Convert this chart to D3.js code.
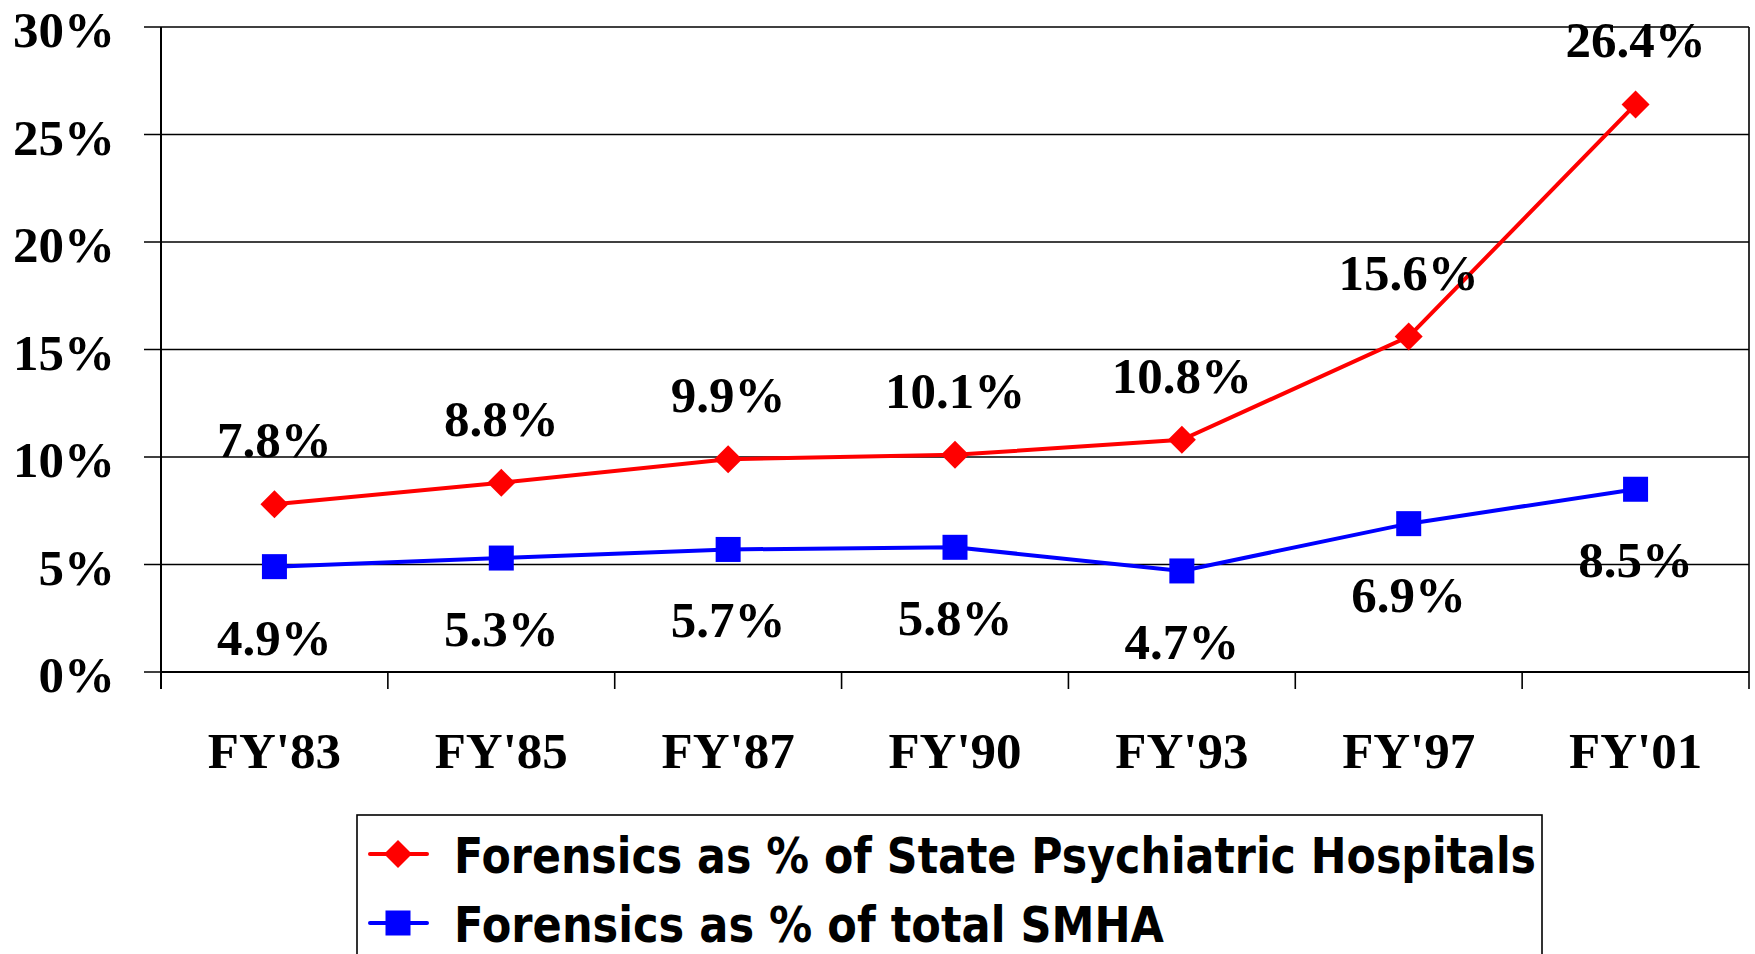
<!DOCTYPE html>
<html>
<head>
<meta charset="utf-8">
<script src="https://cdn.jsdelivr.net/npm/d3@7"></script>
<style>
  body { margin: 0; background: #fff; }
  svg text { font-family: "Liberation Serif", "Times New Roman", serif; font-weight: bold; }
</style>
</head>
<body>
<div id="vis"></div>
<script>
var years = ["FY'83", "FY'85", "FY'87", "FY'90", "FY'93", "FY'97", "FY'01"];
var hospitalPct = [7.8, 8.8, 9.9, 10.1, 10.8, 15.6, 26.4];
var smhaPct = [4.9, 5.3, 5.7, 5.8, 4.7, 6.9, 8.5];
var yTicks = [0, 5, 10, 15, 20, 25, 30];
var legendNames = ["Forensics as % of State Psychiatric Hospitals", "Forensics as % of total SMHA"];

var W = 1755, H = 954,
    plotL = 161, plotR = 1749, plotT = 27, plotB = 672;

var svg = d3.select("#vis").append("svg").attr("width", W).attr("height", H);

var x = d3.scaleBand().domain(years).range([plotL, plotR]);
var y = d3.scaleLinear().domain([0, 30]).range([plotB, plotT]);

// grid lines + y ticks (they stick out left of the axis)
svg.append("g").selectAll("line").data(yTicks).enter().append("line")
    .attr("x1", plotL - 17).attr("x2", plotR)
    .attr("y1", function(d){ return y(d); }).attr("y2", function(d){ return y(d); })
    .attr("stroke", "#000").attr("stroke-width", 1.6);

// right frame
svg.append("line").attr("x1", plotR).attr("x2", plotR).attr("y1", plotT).attr("y2", plotB)
    .attr("stroke", "#000").attr("stroke-width", 1.6);

// y axis
svg.append("line").attr("x1", plotL).attr("x2", plotL).attr("y1", plotT).attr("y2", plotB + 17)
    .attr("stroke", "#000").attr("stroke-width", 2);
// x axis
svg.append("line").attr("x1", plotL).attr("x2", plotR).attr("y1", plotB).attr("y2", plotB)
    .attr("stroke", "#000").attr("stroke-width", 2.2);

// x ticks at band boundaries
svg.append("g").selectAll("line").data(years).enter().append("line")
    .attr("x1", function(d){ return x(d) + x.bandwidth(); })
    .attr("x2", function(d){ return x(d) + x.bandwidth(); })
    .attr("y1", plotB).attr("y2", plotB + 17)
    .attr("stroke", "#000").attr("stroke-width", 1.6);

// y labels
svg.append("g").selectAll("text").data(yTicks).enter().append("text")
    .attr("x", 115).attr("y", function(d){ return y(d) + 20; })
    .attr("text-anchor", "end").attr("font-size", 51)
    .text(function(d){ return d + "%"; });

// x labels
svg.append("g").selectAll("text").data(years).enter().append("text")
    .attr("x", function(d){ return x(d) + x.bandwidth() / 2; })
    .attr("y", 768).attr("text-anchor", "middle").attr("font-size", 51)
    .text(function(d){ return d; });

var cx = function(d, i){ return x(years[i]) + x.bandwidth() / 2; };
var line = d3.line().x(function(d, i){ return cx(d, i); }).y(function(d){ return y(d); });

// red series
svg.append("path").datum(hospitalPct).attr("d", line)
    .attr("fill", "none").attr("stroke", "#ff0000").attr("stroke-width", 4);
svg.append("g").selectAll("path").data(hospitalPct).enter().append("path")
    .attr("d", "M0,-14L14,0L0,14L-14,0Z")
    .attr("transform", function(d, i){ return "translate(" + cx(d, i) + "," + y(d) + ")"; })
    .attr("fill", "#ff0000");

// blue series
svg.append("path").datum(smhaPct).attr("d", line)
    .attr("fill", "none").attr("stroke", "#0000ff").attr("stroke-width", 4);
svg.append("g").selectAll("rect").data(smhaPct).enter().append("rect")
    .attr("x", function(d, i){ return cx(d, i) - 12.5; })
    .attr("y", function(d){ return y(d) - 12.5; })
    .attr("width", 25).attr("height", 25).attr("fill", "#0000ff");

// data labels
svg.append("g").selectAll("text").data(hospitalPct).enter().append("text")
    .attr("x", cx).attr("y", function(d){ return y(d) - 47; })
    .attr("text-anchor", "middle").attr("font-size", 51)
    .text(function(d){ return d.toFixed(1) + "%"; });
svg.append("g").selectAll("text").data(smhaPct).enter().append("text")
    .attr("x", cx).attr("y", function(d){ return y(d) + 88; })
    .attr("text-anchor", "middle").attr("font-size", 51)
    .text(function(d){ return d.toFixed(1) + "%"; });

// legend
var lg = svg.append("g");
lg.append("rect").attr("x", 357).attr("y", 815).attr("width", 1185).attr("height", 160)
    .attr("fill", "#fff").attr("stroke", "#000").attr("stroke-width", 1.6);
var legendColors = ["#ff0000", "#0000ff"];
var rowY = [854, 923];
legendNames.forEach(function(name, i){
    lg.append("line").attr("x1", 370).attr("x2", 427).attr("y1", rowY[i]).attr("y2", rowY[i])
        .attr("stroke", legendColors[i]).attr("stroke-width", 4).attr("stroke-linecap", "round");
    if (i == 0) {
        lg.append("path").attr("d", "M0,-14L14,0L0,14L-14,0Z")
            .attr("transform", "translate(398," + rowY[i] + ")").attr("fill", legendColors[i]);
    } else {
        lg.append("rect").attr("x", 385.5).attr("y", rowY[i] - 12.5).attr("width", 25).attr("height", 25)
            .attr("fill", legendColors[i]);
    }
    var t = lg.append("text").attr("x", 454).attr("y", rowY[i] + 19)
        .attr("font-size", 50)
        .style("font-family", "'DejaVu Sans', Verdana, sans-serif")
        .text(name);
    if (i == 0) t.attr("textLength", 1082).attr("lengthAdjust", "spacingAndGlyphs");
    else t.attr("textLength", 710).attr("lengthAdjust", "spacingAndGlyphs");
});
</script>
</body>
</html>
